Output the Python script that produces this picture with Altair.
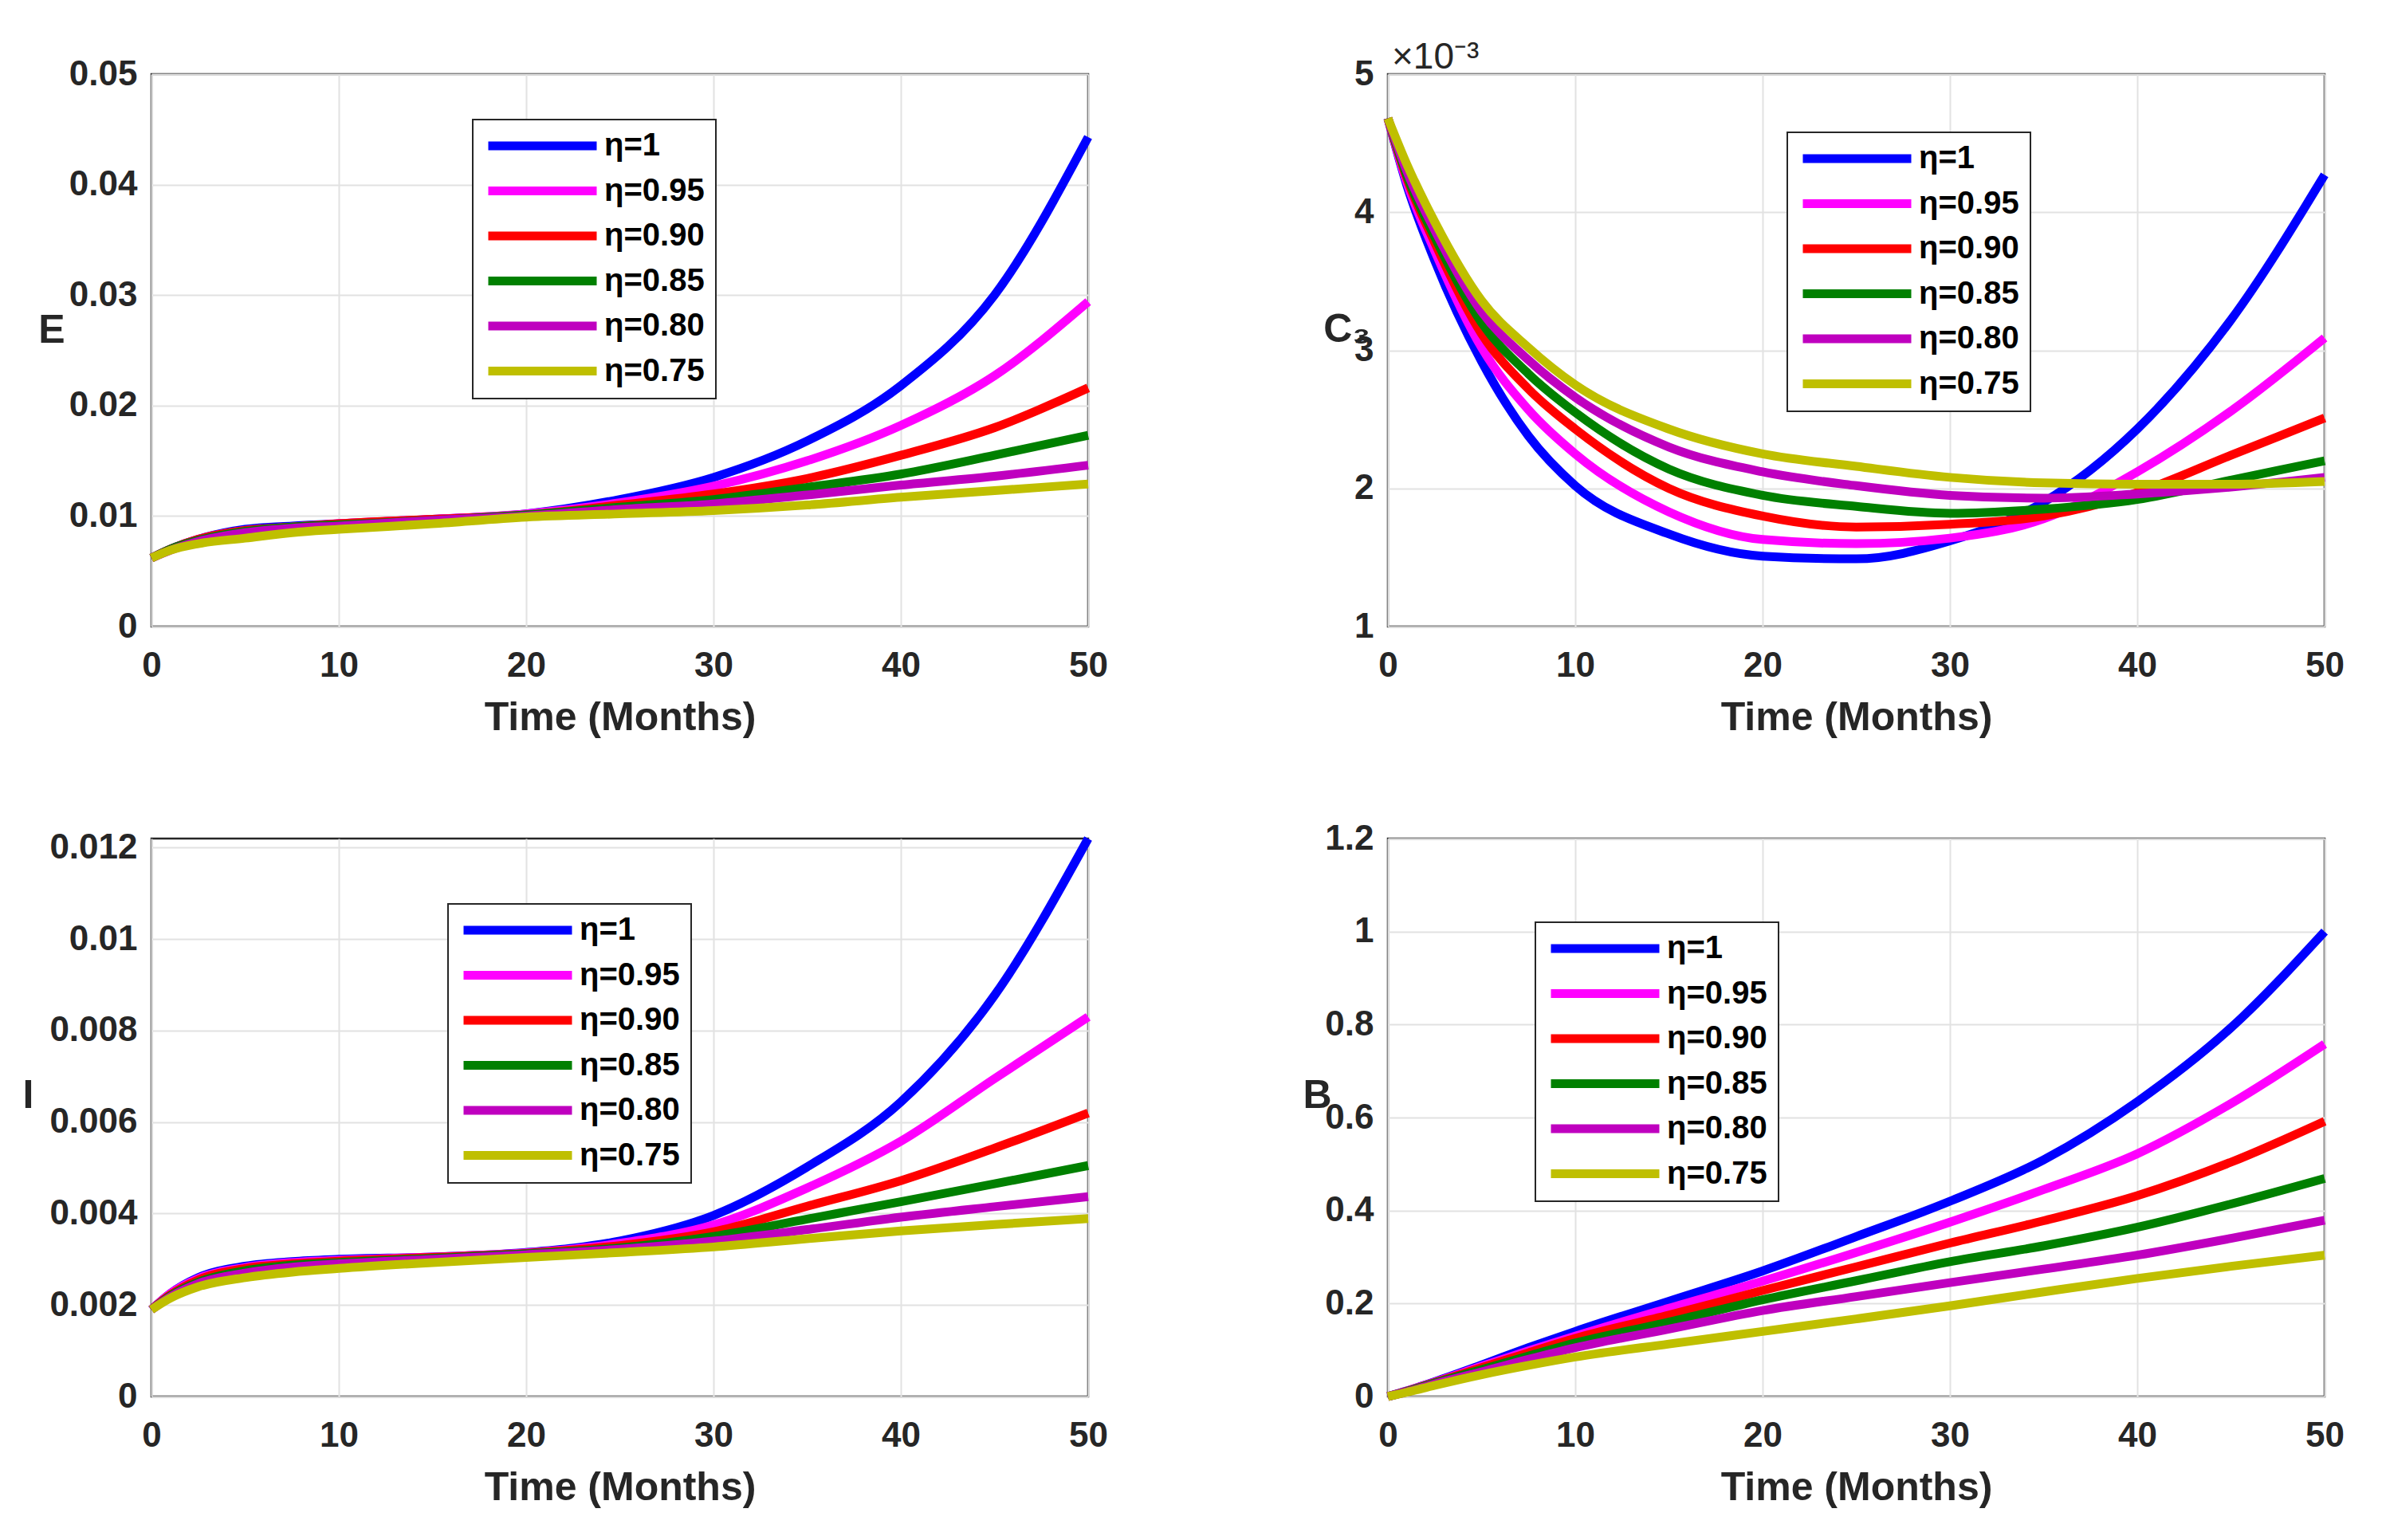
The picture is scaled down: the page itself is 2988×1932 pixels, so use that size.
import altair as alt
import pandas as pd

# ---------------- data ----------------
T = [0, 1, 2.5, 5, 7.5, 10, 15, 20, 25, 30, 35, 40, 45, 50]
ETA_LABELS = ["η=1", "η=0.95", "η=0.90", "η=0.85", "η=0.80", "η=0.75"]
COLORS = ["#0000FF", "#FF00FF", "#FF0000", "#008000", "#BF00BF", "#BFBF00"]

# Panel E
E_100 = [0.0062, 0.0070, 0.0079, 0.0088, 0.0091, 0.0093, 0.0097, 0.0102, 0.0115, 0.0135, 0.0168, 0.0218, 0.0300, 0.0443]
E_095 = [0.0062, 0.0070, 0.0079, 0.0087, 0.0090, 0.0093, 0.0097, 0.0102, 0.0112, 0.0127, 0.0150, 0.0182, 0.0227, 0.0294]
E_090 = [0.0062, 0.0070, 0.0079, 0.0087, 0.0090, 0.0093, 0.0097, 0.0101, 0.0110, 0.0120, 0.0134, 0.0155, 0.0180, 0.0216]
E_085 = [0.0062, 0.0070, 0.0078, 0.0086, 0.0090, 0.0092, 0.0096, 0.0101, 0.0108, 0.0115, 0.0126, 0.0138, 0.0155, 0.0173]
E_080 = [0.0062, 0.0069, 0.0077, 0.0085, 0.0089, 0.0091, 0.0096, 0.0100, 0.0106, 0.0111, 0.0119, 0.0128, 0.0136, 0.0146]
E_075 = [0.0062, 0.0069, 0.0075, 0.0080, 0.0085, 0.0088, 0.0093, 0.0099, 0.0102, 0.0105, 0.0110, 0.0117, 0.0123, 0.0129]

# Panel C3
C_100 = [0.00468, 0.00420, 0.00365, 0.00292, 0.00238, 0.00202, 0.00167, 0.00151, 0.00149, 0.00162, 0.00190, 0.00243, 0.00322, 0.00427]
C_095 = [0.00468, 0.00422, 0.00372, 0.00302, 0.00257, 0.00225, 0.00183, 0.00163, 0.00160, 0.00164, 0.00178, 0.00212, 0.00256, 0.00309]
C_090 = [0.00468, 0.00425, 0.00378, 0.00312, 0.00272, 0.00243, 0.00200, 0.00180, 0.00172, 0.00174, 0.00180, 0.00197, 0.00224, 0.00251]
C_085 = [0.00468, 0.00427, 0.00382, 0.00320, 0.00283, 0.00255, 0.00214, 0.00195, 0.00187, 0.00182, 0.00185, 0.00192, 0.00206, 0.00220]
C_080 = [0.00468, 0.00430, 0.00387, 0.00328, 0.00293, 0.00266, 0.00230, 0.00212, 0.00202, 0.00195, 0.00193, 0.00196, 0.00201, 0.00208]
C_075 = [0.00468, 0.00435, 0.00393, 0.00336, 0.00302, 0.00275, 0.00243, 0.00225, 0.00216, 0.00208, 0.00204, 0.00203, 0.00203, 0.00205]

# Panel I
I_100 = [0.0019, 0.00225, 0.0026, 0.00285, 0.00295, 0.0030, 0.00305, 0.00315, 0.0034, 0.00396, 0.00502, 0.00644, 0.00877, 0.0122]
I_095 = [0.0019, 0.00225, 0.00258, 0.00282, 0.00293, 0.00298, 0.00305, 0.00314, 0.00335, 0.00375, 0.00456, 0.00558, 0.00695, 0.0083]
I_090 = [0.0019, 0.00222, 0.00255, 0.0028, 0.0029, 0.00296, 0.00304, 0.00313, 0.0033, 0.0036, 0.00416, 0.00472, 0.00543, 0.0062]
I_085 = [0.0019, 0.0022, 0.0025, 0.00275, 0.00287, 0.00293, 0.00302, 0.00312, 0.00325, 0.0035, 0.00388, 0.00426, 0.00465, 0.00505]
I_080 = [0.0019, 0.00218, 0.00247, 0.0027, 0.00283, 0.0029, 0.0030, 0.0031, 0.00322, 0.0034, 0.00365, 0.00392, 0.00415, 0.00437]
I_075 = [0.0019, 0.00215, 0.0024, 0.0026, 0.00272, 0.0028, 0.00293, 0.00304, 0.00315, 0.00327, 0.00345, 0.00362, 0.00376, 0.00389]

# Panel B
B_100 = [0.0, 0.012, 0.032, 0.068, 0.105, 0.140, 0.205, 0.270, 0.344, 0.420, 0.509, 0.634, 0.793, 1.000]
B_095 = [0.0, 0.012, 0.031, 0.065, 0.098, 0.130, 0.190, 0.248, 0.310, 0.375, 0.445, 0.522, 0.630, 0.758]
B_090 = [0.0, 0.011, 0.030, 0.062, 0.094, 0.125, 0.175, 0.228, 0.279, 0.330, 0.378, 0.432, 0.504, 0.592]
B_085 = [0.0, 0.011, 0.029, 0.058, 0.087, 0.115, 0.160, 0.208, 0.249, 0.290, 0.324, 0.364, 0.414, 0.469]
B_080 = [0.0, 0.010, 0.027, 0.053, 0.080, 0.105, 0.145, 0.185, 0.215, 0.245, 0.274, 0.304, 0.340, 0.379]
B_075 = [0.0, 0.009, 0.024, 0.047, 0.067, 0.085, 0.113, 0.140, 0.167, 0.195, 0.225, 0.254, 0.280, 0.304]

X_TICKS = [0, 10, 20, 30, 40, 50]
E_TICKS = [0, 0.01, 0.02, 0.03, 0.04, 0.05]
C_TICKS = [0.001, 0.002, 0.003, 0.004, 0.005]
I_TICKS = [0, 0.002, 0.004, 0.006, 0.008, 0.010, 0.012]
B_TICKS = [0, 0.2, 0.4, 0.6, 0.8, 1.0, 1.2]

# ---------------- styling ----------------
FONT = "Liberation Sans"
TXT = "#262626"
W = 1175
H_TOP = 693
H_BOT = 700


def frame(series):
    rows = []
    for lab, vals in zip(ETA_LABELS, series):
        for t, v in zip(T, vals):
            rows.append({"t": t, "value": v, "eta": lab})
    return pd.DataFrame(rows)


def panel(series, ydomain, yticks, ytitle, title_x, title_y, leg_x, leg_y, height,
          label_expr=None, title=None):
    yaxis_kw = dict(
        values=yticks, title=ytitle, titleAngle=0, titleAlign="right",
        titleBaseline="alphabetic", titleX=title_x, titleY=title_y,
        labelPadding=18,
    )
    if label_expr:
        yaxis_kw["labelExpr"] = label_expr
    else:
        yaxis_kw["format"] = "~g"
    legend = alt.Legend(
        orient="none", legendX=leg_x, legendY=leg_y, title=None,
        symbolType="stroke", symbolSize=136 * 136, symbolStrokeWidth=11,
        clipHeight=38, rowPadding=16.5, padding=14,
        labelFont=FONT, labelFontSize=40, labelFontWeight="bold",
        labelColor="#000000", labelOffset=4, labelLimit=400,
        strokeColor=TXT, fillColor="white",
    )
    ch = alt.Chart(frame(series)).mark_line(strokeWidth=11, interpolate="monotone").encode(
        x=alt.X("t:Q", scale=alt.Scale(domain=[0, 50], nice=False),
                axis=alt.Axis(values=X_TICKS, title="Time (Months)", format="d",
                              labelPadding=27, titlePadding=18)),
        y=alt.Y("value:Q", scale=alt.Scale(domain=ydomain, nice=False, zero=False),
                axis=alt.Axis(**yaxis_kw)),
        color=alt.Color("eta:N", scale=alt.Scale(domain=ETA_LABELS, range=COLORS),
                        legend=legend),
    ).properties(width=W, height=height)
    if title is not None:
        ch = ch.properties(title=title)
    return ch


tl = panel([E_100, E_095, E_090, E_085, E_080, E_075], [0, 0.05], E_TICKS, "E",
           -109, 336, 403, 57, H_TOP)
tr = panel([C_100, C_095, C_090, C_085, C_080, C_075], [0.001, 0.005], C_TICKS, "C₃",
           -22, 335, 501, 73, H_TOP,
           label_expr="format(round(datum.value*1000), 'd')",
           title=alt.TitleParams(text="×10⁻³", anchor="start", frame="group",
                                 fontSize=46, fontWeight="normal", font=FONT,
                                 color=TXT, offset=-61, baseline="alphabetic", dx=5))
bl = panel([I_100, I_095, I_090, I_085, I_080, I_075], [0, 0.0122], I_TICKS, "I",
           -148, 337, 372, 82, H_BOT)
br = panel([B_100, B_095, B_090, B_085, B_080, B_075], [0, 1.2], B_TICKS, "B",
           -71, 337, 185, 105, H_BOT)

chart = alt.concat(
    tl, tr, bl, br, columns=2, spacing={"row": 266, "column": 376}, bounds="flush"
).resolve_scale(
    x="independent", y="independent", color="independent"
).resolve_legend(color="independent").properties(
    padding={"left": 18, "top": 39, "right": 5, "bottom": 5},
    background="white",
).configure_axis(
    labelFont=FONT, labelFontSize=44, labelFontWeight="bold", labelColor=TXT,
    titleFont=FONT, titleFontSize=50, titleFontWeight="bold", titleColor=TXT,
    gridColor="#e2e2e2", gridWidth=2, domain=False, ticks=False,
    labelFlush=False, labelOverlap=False,
).configure_legend(
    strokeWidth=2
).configure_view(stroke=TXT, strokeWidth=2.5)

chart.save("out.html", embed_options={"renderer": "svg", "actions": False})
